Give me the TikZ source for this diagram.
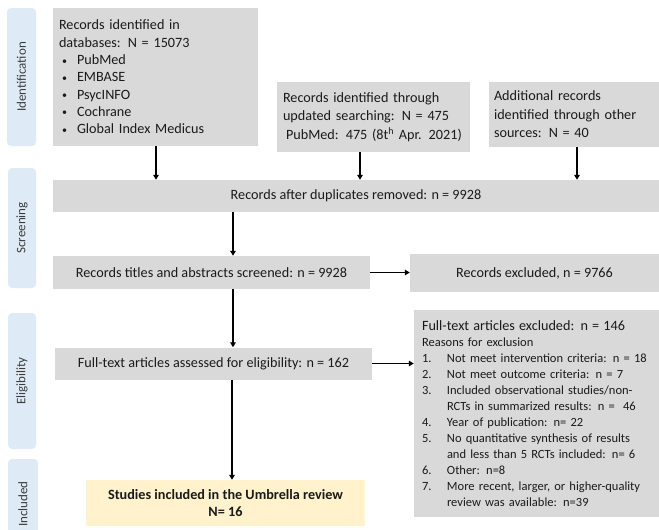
\documentclass[tikz,border=0pt]{standalone}
\usepackage{fontspec}
\setmainfont{Carlito}
\usetikzlibrary{arrows.meta}
\definecolor{boxgray}{HTML}{D9D9D9}
\definecolor{lblue}{HTML}{DEEBF7}
\definecolor{lyellow}{HTML}{FFF2CC}
\definecolor{txt}{HTML}{1A1A1A}
\newcommand{\smbul}{\hspace*{3pt}\makebox[15pt][l]{\raisebox{0.5pt}{\fontsize{10}{10}\selectfont\textbullet}}}
\begin{document}
\begin{tikzpicture}[x=1pt,y=-1pt,
  box/.style={fill=boxgray, draw=none, inner sep=0pt, text=txt, font=\fontsize{14.2}{17.3}\selectfont},
  phase/.style={fill=lblue, draw=none, rounded corners=4pt, inner sep=0pt, rotate=90, text=txt!85, font=\fontsize{13}{15}\selectfont},
  arr/.style={-{Triangle[length=5pt,width=5.5pt]}, line width=1.5pt, black}]
\useasboundingbox (0,0) rectangle (659,530);

% phase labels
\node[phase, minimum width=138pt, minimum height=29pt] (pi) at (21.5,77) {Identification};
\node[phase, minimum width=120pt, minimum height=28pt] (ps) at (22,228) {Screening};
\node[phase, minimum width=136pt, minimum height=28pt] (pe) at (22,381) {Eligibility};
\node[phase, minimum width=90pt, minimum height=30pt] (pn) at (23,504) {Included};

% identification boxes
\node[box, minimum width=205pt, minimum height=138pt, text width=193pt, align=left] (b1) at (155.5,77) {%
Records identified in\\
databases: N = 15073\\
\smbul PubMed\\
\smbul EMBASE\\
\smbul PsycINFO\\
\smbul Cochrane\\
\smbul Global Index Medicus};

\node[box, minimum width=193pt, minimum height=70pt, text width=181pt, align=left, font=\fontsize{14.2}{18.5}\selectfont] (b2) at (373.5,117) {%
Records identified through\\
updated searching: N = 475\\
\hspace*{3pt}PubMed: 475 (8t\textsuperscript{h} Apr. 2021)};

\node[box, minimum width=170pt, minimum height=65pt, text width=160pt, align=left, font=\fontsize{14.2}{18.5}\selectfont] (b3) at (574,114.5) {%
Additional records\\
identified through other\\
sources: N = 40};

% screening
\node[box, minimum width=606pt, minimum height=32pt] (b4) at (356,196) {Records after duplicates removed: n = 9928};
\node[box, minimum width=317pt, minimum height=33pt] (b5) at (211.5,272.5) {Records titles and abstracts screened: n = 9928};
\node[box, minimum width=249pt, minimum height=38pt] (b6) at (534.5,273) {Records excluded, n = 9766};

% eligibility
\node[box, minimum width=317pt, minimum height=32pt] (b7) at (213.5,363.5) {Full-text articles assessed for eligibility: n = 162};
\node[box, minimum width=245pt, minimum height=207pt, text width=229pt, align=left, font=\fontsize{12.5}{16}\selectfont] (b8) at (536.5,413.5) {%
{\fontsize{14.2}{16}\selectfont Full-text articles excluded: n = 146}\\
Reasons for exclusion\\
\makebox[25pt][l]{1.}Not meet intervention criteria: n = 18\\
\makebox[25pt][l]{2.}Not meet outcome criteria: n = 7\\
\makebox[25pt][l]{3.}Included observational studies/non-\\
\hspace*{25pt}RCTs in summarized results: n = \ 46\\
\makebox[25pt][l]{4.}Year of publication: n= 22\\
\makebox[25pt][l]{5.}No quantitative synthesis of results\\
\hspace*{25pt}and less than 5 RCTs included: n= 6\\
\makebox[25pt][l]{6.}Other: n=8\\
\makebox[25pt][l]{7.}More recent, larger, or higher-quality\\
\hspace*{25pt}review was available: n=39};

% included
\node[box, fill=lyellow, minimum width=279pt, minimum height=46pt, align=center, font=\bfseries\fontsize{14.2}{17}\selectfont] (b9) at (225.5,503) {Studies included in the Umbrella review\\N= 16};

% connectors
\coordinate (x1) at (156,0);
\coordinate (x2) at (360,0);
\coordinate (x3) at (577,0);
\coordinate (x4) at (233,0);
\coordinate (x5) at (232,0);
\draw[arr] (b1.south -| x1) -- (b4.north -| x1);
\draw[arr] (b2.south -| x2) -- (b4.north -| x2);
\draw[arr] (b3.south -| x3) -- (b4.north -| x3);
\draw[arr] (b4.south -| x4) -- (b5.north -| x4);
\draw[arr] (b5.south -| x4) -- (b7.north -| x4);
\draw[arr] (b7.south -| x5) -- (b9.north -| x5);
\draw[arr] (b5.east) -- (b5.east -| b6.west);
\draw[arr] (b7.east) -- (b7.east -| b8.west);
\end{tikzpicture}
\end{document}
